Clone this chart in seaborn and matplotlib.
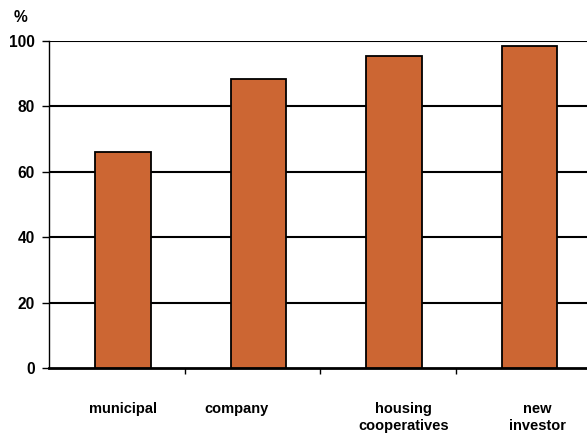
import matplotlib
matplotlib.use("Agg")
import matplotlib.pyplot as plt
import seaborn as sns
import pandas as pd

# Share of dwellings by owner type (%)
categories = ["municipal", "company", "housing\ncooperatives", "new\ninvestor"]
values = [66.0, 88.5, 95.3, 98.5]
y_ticks = [0, 20, 40, 60, 80, 100]

df = pd.DataFrame({"owner": categories, "share": values})

sns.set_theme(style="white")
plt.rcParams["font.family"] = ["Liberation Sans", "DejaVu Sans"]
plt.rcParams["font.weight"] = "bold"
plt.rcParams["text.color"] = "black"
plt.rcParams["xtick.color"] = "black"
plt.rcParams["ytick.color"] = "black"

fig = plt.figure(figsize=(5.87, 4.34), dpi=100)
ax = fig.add_axes([49 / 587, 66 / 434, 542 / 587, 327 / 434])

sns.barplot(data=df, x="owner", y="share", color="#CC6633", width=0.41,
            edgecolor="black", linewidth=1.3, saturation=1, ax=ax, zorder=3)

ax.set_ylim(0, 100)
ax.set_xlim(-0.545, 3.455)
ax.set_yticks(y_ticks)
ax.set_yticklabels([str(t) for t in y_ticks], fontsize=11.2, fontweight="bold")
for t in y_ticks[1:]:
    ax.axhline(t, color="black", lw=1.5, zorder=1)

# category separators along the baseline
ax.set_xticks([0.455, 1.455, 2.455])
ax.set_xticklabels([])
ax.tick_params(axis="x", direction="out", length=4, width=1, color="black", bottom=True)
ax.tick_params(axis="y", direction="out", length=5, width=1, color="black",
               labelcolor="black", left=True, pad=5)

label_shift = [0.0, -0.16, 0.07, 0.06]
for i, (name, dx) in enumerate(zip(categories, label_shift)):
    ax.text(i + dx, -10.5, name, ha="center", va="top", fontsize=10.5,
            fontweight="bold", linespacing=1.2, color="black",
            transform=ax.transData)

ax.set_xlabel("")
ax.set_ylabel("")
for s in ["top", "right"]:
    ax.spines[s].set_visible(False)
ax.spines["left"].set_color("black")
ax.spines["left"].set_linewidth(1)
ax.spines["bottom"].set_color("black")
ax.spines["bottom"].set_linewidth(2)

fig.text(20 / 587, 1 - 18 / 434, "%", ha="center", va="center",
         fontsize=11.2, fontweight="bold", color="black")

fig.savefig("out.png", dpi=100, facecolor="white")
